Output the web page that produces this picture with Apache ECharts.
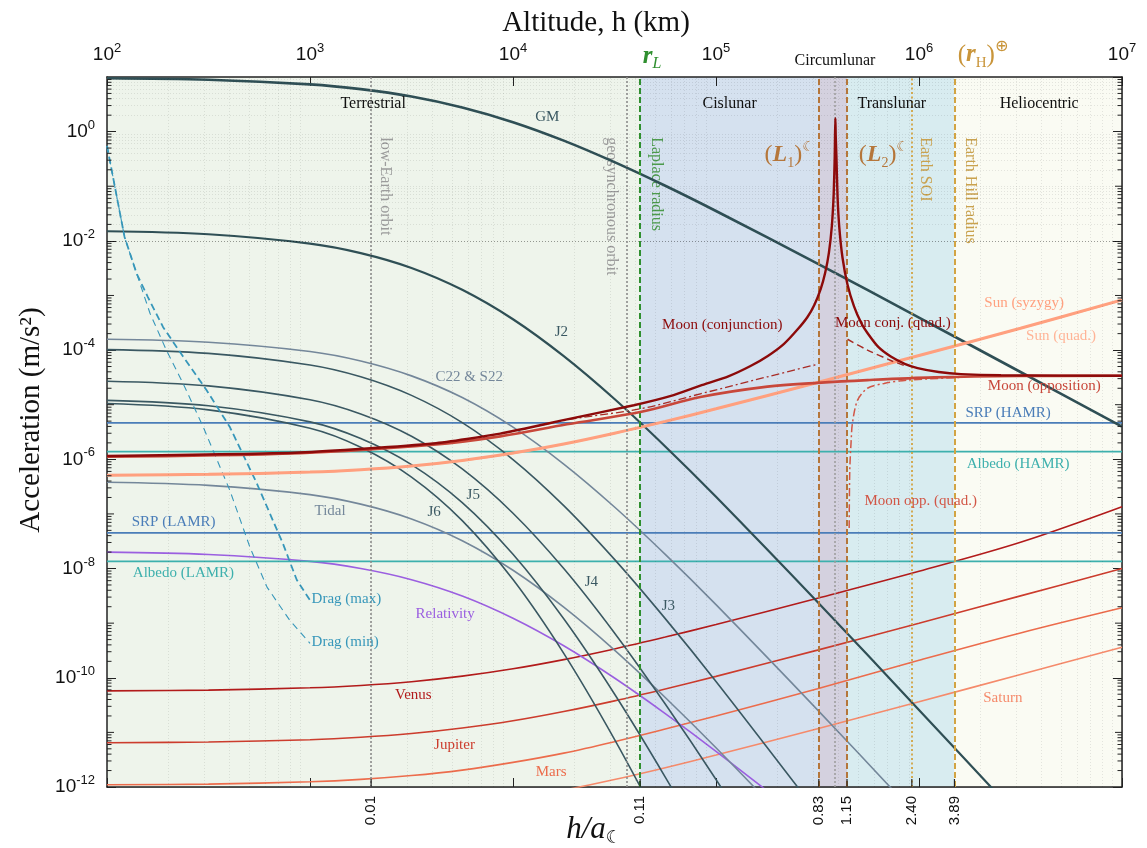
<!DOCTYPE html>
<html><head><meta charset="utf-8">
<script src="https://cdn.jsdelivr.net/npm/echarts/dist/echarts.min.js"></script>
<style>html,body{margin:0;padding:0;background:#fff}#c{width:1147px;height:848px}</style>
</head><body><div id="c"></div>
<script>
// ---------- DATA ----------
const altitudeKm = [100, 316, 1000, 1778, 3162, 5623, 10000, 17783, 31623, 56234, 100000, 316228, 1000000, 3162278, 10000000];
const gmAccel = [9.51, 8.91, 7.33, 6.00, 4.39, 2.77, 1.49, 0.684, 0.276, 0.102, 0.0352, 3.84e-3, 3.94e-4, 3.97e-5, 3.98e-6];
const j2Accel = [1.50e-2, 1.32e-2, 8.91e-3, 5.97e-3, 3.19e-3, 1.27e-3, 3.67e-4, 7.74e-5, 1.27e-5, 1.72e-6, 2.06e-7, 2.44e-9, 2.58e-11, 2.62e-13];
const c22Accel = [1.58e-4, 1.39e-4, 9.42e-5, 6.31e-5, 3.37e-5, 1.35e-5, 3.88e-6, 8.18e-7, 1.34e-7, 1.82e-8, 2.18e-9, 2.58e-11, 2.72e-13];
const j3Accel = [1.02e-4, 8.69e-5, 5.33e-5, 3.24e-5, 1.48e-5, 4.69e-6, 9.91e-7, 1.42e-7, 1.47e-8, 1.21e-9, 8.57e-11, 3.34e-13];
const j4Accel = [2.69e-5, 2.21e-5, 1.23e-5, 6.76e-6, 2.64e-6, 6.65e-7, 1.03e-7, 1.00e-8, 6.61e-10, 3.30e-11, 1.37e-12, 1.78e-15];
const j5Accel = [1.20e-5, 9.55e-6, 4.84e-6, 2.40e-6, 8.00e-7, 1.61e-7, 1.82e-8, 1.20e-9, 5.04e-11, 1.52e-12, 3.7e-14];
const j6Accel = [1.05e-5, 8.05e-6, 3.70e-6, 1.66e-6, 4.73e-7, 7.55e-8, 6.27e-9, 2.80e-10, 7.46e-12, 1.37e-13];
const tidalAccel = [3.80e-7, 3.33e-7, 2.26e-7, 1.51e-7, 8.09e-8, 3.23e-8, 9.31e-9, 1.96e-9, 3.21e-10, 4.36e-11, 5.22e-12, 6.18e-14];
const relativityAccel = [2.00e-8, 1.81e-8, 1.35e-8, 1.00e-8, 6.25e-9, 3.14e-9, 1.23e-9, 3.85e-10, 9.89e-11, 2.21e-11, 4.51e-12, 1.62e-13];
const venusAccel = [5.75e-11, 5.94e-11, 6.55e-11, 7.24e-11, 8.47e-11, 1.07e-10, 1.46e-10, 2.15e-10, 3.37e-10, 5.56e-10, 9.44e-10, 2.86e-9, 8.91e-9, 3.02e-8, 1.35e-7];
const jupiterAccel = [6.46e-12, 6.67e-12, 7.35e-12, 8.13e-12, 9.51e-12, 1.20e-11, 1.63e-11, 2.41e-11, 3.78e-11, 6.24e-11, 1.06e-10, 3.21e-10, 1.00e-9, 3.16e-9, 9.98e-9];
const marsAccel = [1.10e-12, 1.13e-12, 1.25e-12, 1.38e-12, 1.62e-12, 2.04e-12, 2.82e-12, 4.17e-12, 6.76e-12, 1.15e-11, 2.00e-11, 6.31e-11, 2.09e-10, 6.61e-10, 1.91e-9];
const saturnAccel = [2.34e-13, 2.42e-13, 2.67e-13, 2.95e-13, 3.45e-13, 4.35e-13, 5.93e-13, 8.75e-13, 1.37e-12, 2.26e-12, 3.85e-12, 1.17e-11, 3.64e-11, 1.15e-10, 3.62e-10];
const sunSyzygyAccel = [5.13e-7, 5.30e-7, 5.85e-7, 6.46e-7, 7.55e-7, 9.51e-7, 1.30e-6, 1.91e-6, 3.01e-6, 4.95e-6, 8.41e-6, 2.55e-5, 7.96e-5, 2.51e-4, 8.32e-4];
const sunQuadAccel = [5.05e-7, 5.22e-7, 5.76e-7, 6.36e-7, 7.43e-7, 9.36e-7, 1.28e-6, 1.88e-6, 2.96e-6, 4.87e-6, 8.28e-6, 2.51e-5, 7.83e-5, 2.47e-4, 8.10e-4];

const constantEndsKm = [100, 10000000];
const srpHamrAccel = [4.65e-6, 4.65e-6];
const albedoHamrAccel = [1.38e-6, 1.38e-6];
const srpLamrAccel = [4.5e-8, 4.5e-8];
const albedoLamrAccel = [1.35e-8, 1.35e-8];

const dragMaxKm = [100, 122, 140, 159, 189, 237, 309, 403, 547, 735, 861, 1000];
const dragMaxAccel = [0.55, 1.18e-2, 2.51e-3, 9.33e-4, 2.63e-4, 7.59e-5, 1.86e-5, 3.89e-6, 3.63e-7, 2.88e-8, 6.17e-9, 2.63e-9];
const dragMinKm = [100, 122, 140, 163, 196, 237, 298, 403, 506, 614, 796, 1000];
const dragMinAccel = [0.55, 1.18e-2, 2.51e-3, 4.68e-4, 1.00e-4, 2.45e-5, 3.89e-6, 2.69e-7, 2.45e-8, 4.57e-9, 1.12e-9, 4.27e-10];

const moonConjKm = [100, 893, 4055, 8650, 18450, 39360, 60000, 83750, 115000, 147900, 180000, 216300, 250000, 281800, 305000, 328100, 345000, 360000, 372000, 380000, 384500, 385800, 387300, 388800, 392000, 397000, 405000, 420000, 444600, 478600, 520000, 557200, 630000, 726100, 850000, 984000, 1250000, 1610000, 2535000, 10000000];
const moonConjAccel = [1.15e-6, 1.33e-6, 1.95e-6, 2.95e-6, 5.37e-6, 9.77e-6, 1.45e-5, 2.24e-5, 3.3e-5, 5.1e-5, 7.8e-5, 1.3e-4, 2.3e-4, 4.0e-4, 6.7e-4, 1.32e-3, 2.6e-3, 6.1e-3, 1.85e-2, 7.3e-2, 0.35, 0.85, 1.76, 0.85, 0.34, 6.4e-2, 1.75e-2, 4.9e-3, 1.57e-3, 6.33e-4, 3.1e-4, 2.05e-4, 1.14e-4, 7.6e-5, 5.6e-5, 4.68e-5, 3.97e-5, 3.63e-5, 3.45e-5, 3.39e-5];
const moonOppKm = [100, 893, 4055, 8650, 18450, 42950, 83750, 179100, 316200, 557200, 1186000, 3162000, 10000000];
const moonOppAccel = [1.12e-6, 1.30e-6, 1.85e-6, 2.63e-6, 4.37e-6, 7.41e-6, 1.38e-5, 2.14e-5, 2.51e-5, 2.82e-5, 3.16e-5, 3.35e-5, 3.39e-5];
const moonConjQuadKm = [100, 893, 4055, 8650, 18450, 42950, 83750, 179100, 316200];
const moonConjQuadAccel = [1.15e-6, 1.33e-6, 1.95e-6, 2.95e-6, 5.25e-6, 8.51e-6, 1.58e-5, 3.24e-5, 5.50e-5];
const moonConjQuadFarKm = [444600, 557200, 726100, 841400];
const moonConjQuadFarAccel = [1.58e-4, 1.00e-4, 6.46e-5, 5.25e-5];
const moonOppQuadKm = [452900, 456000, 463400, 469900, 497700, 557200, 673000, 879000, 1610000];
const moonOppQuadAccel = [5.50e-8, 6.31e-7, 2.24e-6, 4.57e-6, 1.20e-5, 2.00e-5, 2.45e-5, 2.82e-5, 3.16e-5];

const regionEdgesKm = [100, 42300, 321000, 442000, 1495000, 10000000];
const regionNames = ['Terrestrial', 'Cislunar', 'Circumlunar', 'Translunar', 'Heliocentric'];
const landmarkKm = [2000, 36300, 42300, 321000, 383000, 442000, 922000, 1495000];
const landmarkNames = ['low-Earth orbit', 'geosynchronous orbit', 'Laplace radius', 'L1', 'Moon', 'L2', 'Earth SOI', 'Earth Hill radius'];
const ratioTickKm = [2000, 42300, 321000, 442000, 922000, 1495000];
const ratioTickLabels = ['0.01', '0.11', '0.83', '1.15', '2.40', '3.89'];

// ---------- STYLE ----------
const SERIF = '"Liberation Serif","DejaVu Serif",serif';
const SANS = '"Liberation Sans","DejaVu Sans",Arial,sans-serif';
const DARK = '#2f4f55', JCOL = '#3a5862', GB = '#74879a';
const DRAG = '#3797ba', SRP = '#4a7db8', ALB = '#3db0ad', REL = '#9b5fe0';
const MCONJ = '#8c0a0a', MOPP = '#c8473a', MQ = '#a82b25', MOQ = '#d25646';
const SUN = '#ffa07f', SUNQ = '#ffb497';
const VEN = '#b21b1b', JUP = '#cc3c2d', MAR = '#ec6c4c', SAT = '#f58a6b';
const regionColors = ['#eef4eb', '#d5e1ef', '#d4d1df', '#d8ecf0', '#fafbf3'];
const landmarkStyles = [
  {color:'#8c8c8c', type:[2,2], width:1.6},
  {color:'#8c8c8c', type:[2,2], width:1.6},
  {color:'#2f8f2f', type:[6,3], width:2},
  {color:'#b5763a', type:[6,3], width:2},
  {color:'#9a9a9a', type:[2,2], width:1.5},
  {color:'#b5763a', type:[6,3], width:2},
  {color:'#d2a443', type:[2,2.5], width:1.8},
  {color:'#d2a443', type:[6,3], width:2}
];

function pairs(hs, as) { return as.map((a, i) => [hs[i], a]); }
const series = [];
function curve(name, hs, as, color, width, type, z, smooth) {
  series.push({
    name, type: 'line', data: pairs(hs, as), showSymbol: false, symbol: 'none',
    smooth: smooth === undefined ? 0.35 : smooth,
    lineStyle: { color, width, type: type || 'solid' }, z: z || 3, silent: true, clip: true
  });
}

const areaData = [];
for (let i = 0; i < regionNames.length; i++) {
  areaData.push([{ xAxis: regionEdgesKm[i], itemStyle: { color: regionColors[i] } }, { xAxis: regionEdgesKm[i + 1] }]);
}
series.push({ name: 'regions', type: 'line', data: [], z: 0, silent: true,
  markArea: { silent: true, data: areaData, label: { show: false } } });

const minorLines = [];
for (let k = 2; k < 7; k++) for (let m = 2; m <= 9; m++) minorLines.push({ xAxis: m * Math.pow(10, k) });
for (let k = -12; k < 1; k++) for (let m = 1; m <= 9; m++) {
  if (m === 1 && k % 2 === 0) continue;
  minorLines.push({ yAxis: m * Math.pow(10, k) });
}
series.push({ name: 'minorGrid', type: 'line', data: [], z: 1, silent: true,
  markLine: { silent: true, symbol: ['none', 'none'], label: { show: false },
    lineStyle: { color: 'rgba(0,0,0,0.09)', type: [1, 2], width: 1 }, data: minorLines, animation: false } });

series.push({ name: 'landmarks', type: 'line', data: [], z: 2, silent: true,
  markLine: { silent: true, symbol: ['none', 'none'], label: { show: false }, animation: false,
    data: landmarkKm.map((h, i) => ({ xAxis: h, lineStyle: landmarkStyles[i] })) } });

curve('Saturn', altitudeKm, saturnAccel, SAT, 1.6);
curve('Mars', altitudeKm, marsAccel, MAR, 1.6);
curve('Jupiter', altitudeKm, jupiterAccel, JUP, 1.6);
curve('Venus', altitudeKm, venusAccel, VEN, 1.6);
curve('Relativity', altitudeKm, relativityAccel, REL, 1.6);
curve('Albedo (LAMR)', constantEndsKm, albedoLamrAccel, ALB, 1.6, null, 3, false);
curve('SRP (LAMR)', constantEndsKm, srpLamrAccel, SRP, 1.6, null, 3, false);
curve('Albedo (HAMR)', constantEndsKm, albedoHamrAccel, ALB, 1.6, null, 3, false);
curve('SRP (HAMR)', constantEndsKm, srpHamrAccel, SRP, 1.6, null, 3, false);
curve('Tidal', altitudeKm, tidalAccel, GB, 1.6);
curve('J6', altitudeKm, j6Accel, JCOL, 1.6);
curve('J5', altitudeKm, j5Accel, JCOL, 1.6);
curve('J4', altitudeKm, j4Accel, JCOL, 1.6);
curve('J3', altitudeKm, j3Accel, JCOL, 1.6);
curve('C22 & S22', altitudeKm, c22Accel, GB, 1.6);
curve('J2', altitudeKm, j2Accel, DARK, 2.2);
curve('GM', altitudeKm, gmAccel, DARK, 2.6);
curve('Drag (min)', dragMinKm, dragMinAccel, DRAG, 1.1, [7, 5], 3, false);
curve('Drag (max)', dragMaxKm, dragMaxAccel, DRAG, 1.8, [7, 4], 3, false);
curve('Sun (quad.)', altitudeKm, sunQuadAccel, SUNQ, 1.4, null, 4);
curve('Sun (syzygy)', altitudeKm, sunSyzygyAccel, SUN, 3, null, 4);
curve('Moon opp. (quad.)', moonOppQuadKm, moonOppQuadAccel, MOQ, 1.5, [8, 3, 2, 3], 4, 0.3);
curve('Moon conj. (quad.)', moonConjQuadKm, moonConjQuadAccel, MQ, 1.3, [8, 3, 2, 3], 4, 0.35);
curve('Moon conj. (quad.) far', moonConjQuadFarKm, moonConjQuadFarAccel, MQ, 1.5, [7, 4], 4, 0.3);
curve('Moon (opposition)', moonOppKm, moonOppAccel, MOPP, 2.6, null, 5, 0.35);
curve('Moon (conjunction)', moonConjKm, moonConjAccel, MCONJ, 2.4, null, 6, 0.2);

const supRich = { s: { fontSize: 13, fontFamily: SANS, color: '#111', verticalAlign: 'top', lineHeight: 12 } };
const option = {
  animation: false,
  backgroundColor: '#ffffff',
  grid: { left: 107, right: 25, top: 77, bottom: 61, show: false },
  xAxis: [
    { type: 'log', logBase: 10, position: 'top', min: 100, max: 10000000, z: 1,
      axisLine: { show: true, onZero: false, lineStyle: { color: '#222', width: 1.5 } },
      axisTick: { show: true, inside: true, length: 9, lineStyle: { color: '#222' } },
      axisLabel: { margin: 9, color: '#111', fontFamily: SANS, fontSize: 19, lineHeight: 26,
        formatter: v => '10{s|' + Math.round(Math.log10(v)) + '}', rich: supRich },
      splitLine: { show: true, lineStyle: { color: '#c4c4c4', width: 1 } } },
    { type: 'log', logBase: 10, position: 'bottom', min: 100, max: 10000000, z: 1,
      axisLine: { show: true, onZero: false, lineStyle: { color: '#222', width: 1.5 } },
      axisTick: { show: true, inside: true, length: 9, lineStyle: { color: '#222' } },
      axisLabel: { show: false }, splitLine: { show: false } }
  ],
  yAxis: [
    { type: 'log', logBase: 100, position: 'left', min: 1e-12, max: 10, z: 1,
      axisLine: { show: true, onZero: false, lineStyle: { color: '#222', width: 1.5 } },
      axisTick: { show: true, inside: true, length: 9, lineStyle: { color: '#222' } },
      axisLabel: { margin: 12, color: '#111', fontFamily: SANS, fontSize: 19, lineHeight: 26, showMaxLabel: false,
        formatter: v => '10{s|' + Math.round(Math.log10(v)) + '}', rich: supRich },
      splitLine: { show: true, lineStyle: { color: '#c4c4c4', width: 1 } } },
    { type: 'log', logBase: 100, position: 'right', min: 1e-12, max: 10, z: 1,
      axisLine: { show: true, onZero: false, lineStyle: { color: '#222', width: 1.5 } },
      axisTick: { show: true, inside: true, length: 9, lineStyle: { color: '#222' } },
      axisLabel: { show: false }, splitLine: { show: false } }
  ],
  series
};

const chart = echarts.init(document.getElementById('c'));
chart.setOption(option);

// ---------- annotations positioned through the axes ----------
const P = (h, a) => chart.convertToPixel({ xAxisIndex: 0, yAxisIndex: 0 }, [h, a]);
const gfx = [];
function label(text, h, a, color, size, extra) {
  const p = P(h, a);
  const e = Object.assign({ align: 'center', rot: 0, z: 20, family: SERIF }, extra || {});
  gfx.push({ type: 'text', x: p[0], y: p[1], rotation: e.rot * Math.PI / 180, z: e.z, silent: true,
    style: { text, fill: color, fontSize: size, fontFamily: e.family, align: e.align, verticalAlign: 'middle',
      fontStyle: e.italic ? 'italic' : 'normal', fontWeight: e.bold ? 'bold' : 'normal', rich: e.rich } });
}
label('Terrestrial', 2047, 3.19, '#111', 16);
label('Cislunar', 116700, 3.19, '#111', 16);
label('Translunar', 734500, 3.19, '#111', 16);
label('Heliocentric', 3908000, 3.19, '#111', 16);
const vt = { align: 'left', rot: -90, z: 2.5 };
label('low-Earth orbit', 2344, 0.79, '#9c9c9c', 16, vt);
label('geosynchronous orbit', 30550, 0.79, '#9c9c9c', 16, vt);
label('Laplace radius', 50930, 0.79, '#4c9a4c', 16, vt);
label('Earth SOI', 1069000, 0.79, '#c9a24f', 16, vt);
label('Earth Hill radius', 1782000, 0.79, '#c9a24f', 16, vt);
const lRich = {
  p: { fontSize: 24, fontFamily: SERIF, fill: '#b5763a', lineHeight: 30 },
  L: { fontSize: 24, fontFamily: SERIF, fill: '#b5763a', fontStyle: 'italic', fontWeight: 'bold', lineHeight: 30 },
  b: { fontSize: 14, fontFamily: SERIF, fill: '#b5763a', verticalAlign: 'bottom', lineHeight: 15 },
  u: { fontSize: 14, fontFamily: '"DejaVu Sans",sans-serif', fill: '#b5763a', verticalAlign: 'top', lineHeight: 14 }
};
label('{p|(}{L|L}{b|1}{p|)}{u|☾}', 230700, 0.371, '#b5763a', 24, { rich: lRich });
label('{p|(}{L|L}{b|2}{p|)}{u|☾}', 671000, 0.371, '#b5763a', 24, { rich: lRich });
label('GM', 14760, 1.85, JCOL, 15);
label('J2', 17300, 2.13e-4, JCOL, 15);
label('C22 & S22', 6080, 3.19e-5, GB, 15);
label('J5', 6370, 2.20e-7, JCOL, 15);
label('J6', 4090, 1.07e-7, JCOL, 15);
label('J4', 24320, 5.61e-9, JCOL, 15);
label('J3', 58300, 2.04e-9, JCOL, 15);
label('Tidal', 1256, 1.12e-7, GB, 15);
label('SRP (HAMR)', 2748000, 6.98e-6, SRP, 15);
label('Albedo (HAMR)', 3077000, 8.13e-7, ALB, 15);
label('SRP (LAMR)', 213, 6.95e-8, SRP, 15);
label('Albedo (LAMR)', 238, 8.11e-9, ALB, 15);
label('Drag (max)', 1018, 2.74e-9, DRAG, 15, { align: 'left' });
label('Drag (min)', 1018, 4.42e-10, DRAG, 15, { align: 'left' });
label('Relativity', 4634, 1.46e-9, REL, 15);
label('Venus', 3228, 4.78e-11, VEN, 15);
label('Jupiter', 5152, 5.81e-12, JUP, 15);
label('Mars', 15420, 1.88e-12, MAR, 15);
label('Saturn', 2588000, 4.22e-11, SAT, 15);
label('Moon (conjunction)', 107400, 2.86e-4, MCONJ, 15);
label('Moon conj. (quad.)', 743000, 3.11e-4, MCONJ, 15);
label('Moon (opposition)', 4140000, 2.18e-5, MOPP, 15);
label('Moon opp. (quad.)', 1020000, 1.71e-7, MOQ, 15);
label('Sun (syzygy)', 3296000, 7.23e-4, SUN, 15);
label('Sun (quad.)', 5012000, 1.80e-4, SUNQ, 15);

const yBottom = P(100, 1e-12)[1];
ratioTickKm.forEach((h, i) => {
  const x = P(h, 1e-12)[0];
  gfx.push({ type: 'line', z: 20, silent: true, shape: { x1: x, y1: yBottom, x2: x, y2: yBottom - 8 }, style: { stroke: '#222', lineWidth: 1.2 } });
  gfx.push({ type: 'text', x: x, y: yBottom + 9, rotation: Math.PI / 2, z: 20, silent: true,
    style: { text: ratioTickLabels[i], fill: '#111', fontSize: 15, fontFamily: SANS, align: 'right', verticalAlign: 'middle' } });
});
const xL = P(100, 1)[0], xR = P(10000000, 1)[0];
for (let k = -12; k < 1; k++) for (let m = 1; m <= 9; m++) {
  if (m === 1 && k % 2 === 0) continue;
  const v = m * Math.pow(10, k);
  if (v > 10) continue;
  const y = P(100, v)[1];
  const len = m === 1 ? 7 : 4.5;
  gfx.push({ type: 'line', z: 20, silent: true, shape: { x1: xL, y1: y, x2: xL + len, y2: y }, style: { stroke: '#222', lineWidth: 1 } });
  gfx.push({ type: 'line', z: 20, silent: true, shape: { x1: xR, y1: y, x2: xR - len, y2: y }, style: { stroke: '#222', lineWidth: 1 } });
}
function ptext(text, x, y, size, color, extra) {
  const e = extra || {};
  gfx.push({ type: 'text', x, y, rotation: e.rot || 0, z: 20, silent: true,
    style: { text, fill: color, fontSize: size, fontFamily: e.family || SERIF, align: 'center', verticalAlign: 'middle',
      fontStyle: e.italic ? 'italic' : 'normal', rich: e.rich } });
}
ptext('Altitude, h (km)', 596, 23, 29, '#111');
ptext('Acceleration (m/s²)', 31, 420, 29, '#111', { rot: Math.PI / 2 });
ptext('Circumlunar', 835, 61, 16, '#111');
ptext('{r|r}{b|L}', 652, 57, 24, '#2f8f2f', { rich: {
  r: { fontSize: 25, fontFamily: SERIF, fontStyle: 'italic', fontWeight: 'bold', fill: '#2f8f2f', lineHeight: 30 },
  b: { fontSize: 16, fontFamily: SERIF, fontStyle: 'italic', fill: '#2f8f2f', verticalAlign: 'bottom', lineHeight: 16 } } });
ptext('{p|(}{r|r}{b|H}{p|)}{u|⊕}', 983, 55, 24, '#c9953a', { rich: {
  p: { fontSize: 25, fontFamily: SERIF, fill: '#c9953a', lineHeight: 32 },
  r: { fontSize: 25, fontFamily: SERIF, fontStyle: 'italic', fontWeight: 'bold', fill: '#c9953a', lineHeight: 32 },
  b: { fontSize: 15, fontFamily: SERIF, fill: '#c9953a', verticalAlign: 'bottom', lineHeight: 17 },
  u: { fontSize: 16, fontFamily: '"DejaVu Sans",sans-serif', fill: '#c9953a', verticalAlign: 'top', lineHeight: 15 } } });
ptext('{i|h/a}{b|☾}', 594, 830, 30, '#111', { rich: {
  i: { fontSize: 31, fontFamily: SERIF, fontStyle: 'italic', fill: '#111', lineHeight: 34 },
  b: { fontSize: 18, fontFamily: '"DejaVu Sans",sans-serif', fill: '#111', verticalAlign: 'bottom', lineHeight: 18 } } });

chart.setOption({ graphic: gfx });
</script>
</body></html>
